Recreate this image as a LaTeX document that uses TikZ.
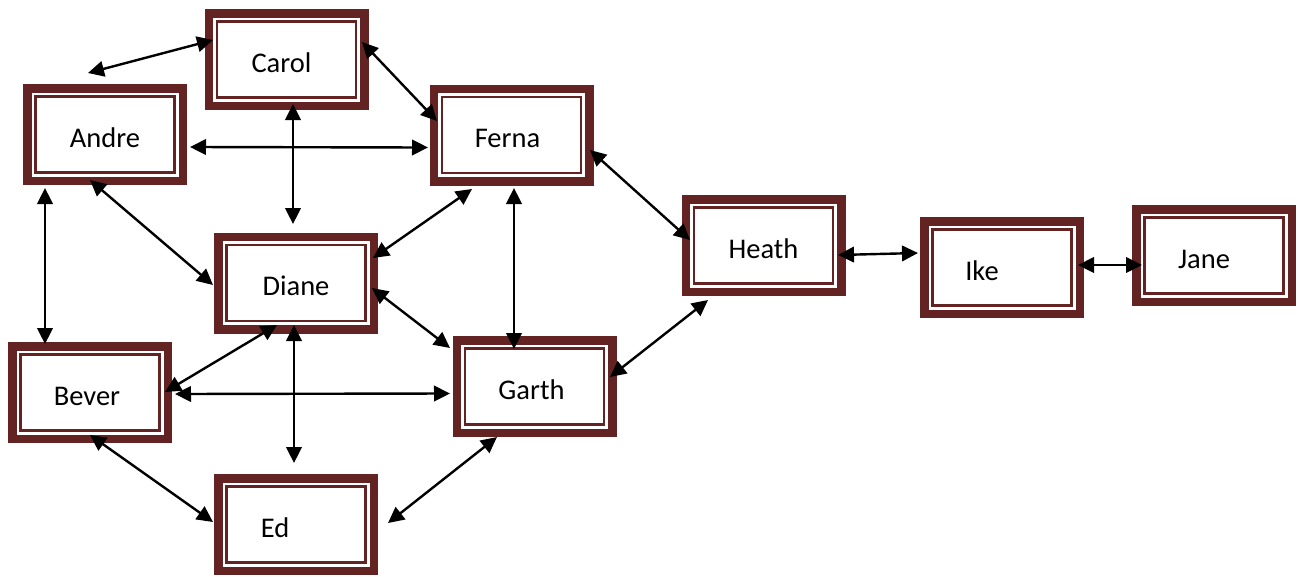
\documentclass[tikz,border=0pt]{standalone}
\usepackage{fontspec}
\setmainfont{Carlito}
\usetikzlibrary{arrows.meta}

\definecolor{framered}{RGB}{100,35,35}

\tikzset{
  tag/.style={font=\fontsize{28.5}{34}\selectfont,text height=25pt,text depth=0pt},
  person/.style={draw=framered,line width=8.5pt,fill=white,inner sep=0pt,
    minimum width=155.5pt,minimum height=92.5pt,tag,
    path picture={\draw[framered,line width=2.3pt]
      ([shift={(8.2pt,8.2pt)}]path picture bounding box.south west) rectangle
      ([shift={(-8.2pt,-8.2pt)}]path picture bounding box.north east);}},
  link/.style={line width=2.4pt,
    {Triangle[length=16pt,width=15.5pt]}-{Triangle[length=16pt,width=15.5pt]}}
}

\begin{document}
\begin{tikzpicture}[x=1pt,y=-1pt]
  \useasboundingbox (0,0) rectangle (1300,576);

  \node[person,label={[tag,xshift=-5pt]center:Carol}] (carol) at (286.5,59.5) {};
  \node[person] (andre) at (105,134.5) {Andre};
  \node[person,label={[tag,xshift=-4pt]center:Ferna}] (ferna) at (511.5,135) {};
  \node[person] (diane) at (296,283) {Diane};
  \node[person] (heath) at (763.5,245.5) {Heath};
  \node[person,label={[tag,xshift=-20pt]center:Ike}] (ike) at (1002,267.5) {};
  \node[person,label={[tag,xshift=-10pt]center:Jane}] (jane) at (1214,255.5) {};
  \node[person,label={[tag,xshift=-3pt]center:Bever}] (bever) at (90,392.5) {};
  \node[person,label={[tag,xshift=-3pt]center:Garth}] (garth) at (534.5,386.5) {};
  \node[person,label={[tag,xshift=-21pt]center:Ed}] (ed) at (296,524.5) {};

  \coordinate (andretop) at ([shift={(-17,-61.5)}]andre.center);

  \path[link]
    ([shift={(-73.5,-19.5)}]carol.center) edge (andretop)
    ([shift={(75.5,-17.5)}]carol.center) edge ([shift={(-74.5,-14)}]ferna.center)
    ([shift={(6.5,44.5)}]carol.center) edge ([shift={(-3,-59)}]diane.center)
    ([shift={(85,12.5)}]andre.center) edge ([shift={(-83.5,12.5)}]ferna.center)
    ([shift={(-15,45.5)}]andre.center) edge ([shift={(-83,2)}]diane.center)
    ([shift={(-60,53.5)}]andre.center) edge ([shift={(-45,-48.5)}]bever.center)
    ([shift={(-39.5,54)}]ferna.center) edge ([shift={(77,-25)}]diane.center)
    ([shift={(2.5,53)}]ferna.center) edge ([shift={(-20.5,-37.5)}]garth.center)
    ([shift={(78.5,15)}]ferna.center) edge ([shift={(-73.5,-5.5)}]heath.center)
    ([shift={(-19,42)}]diane.center) edge ([shift={(75,-0.5)}]bever.center)
    ([shift={(-2,42)}]diane.center) edge ([shift={(-2,-61.5)}]ed.center)
    ([shift={(76,5)}]diane.center) edge ([shift={(-84.5,-38.5)}]garth.center)
    ([shift={(85,1.5)}]bever.center) edge ([shift={(-84.5,7)}]garth.center)
    ([shift={(0,42.5)}]bever.center) edge ([shift={(-83,-2.5)}]ed.center)
    ([shift={(92,-1.5)}]ed.center) edge ([shift={(-37.5,50.5)}]garth.center)
    ([shift={(75.5,-9.5)}]garth.center) edge ([shift={(-55.5,54.5)}]heath.center)
    ([shift={(74.5,9.5)}]heath.center) edge ([shift={(-84,-14.5)}]ike.center)
    ([shift={(76,-2.5)}]ike.center) edge ([shift={(-72,9.5)}]jane.center);
\end{tikzpicture}
\end{document}
